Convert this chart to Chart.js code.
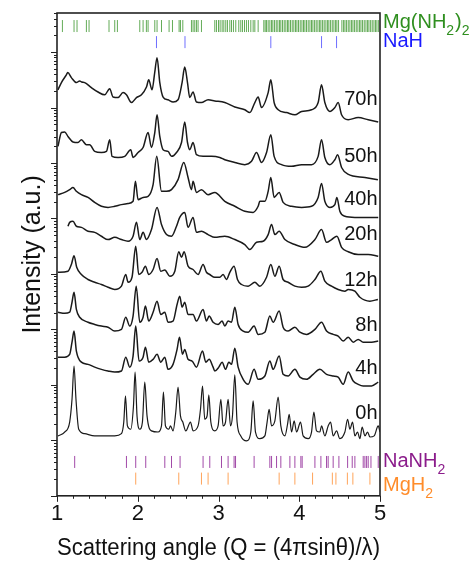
<!DOCTYPE html>
<html>
<head>
<meta charset="utf-8">
<script src="https://cdn.jsdelivr.net/npm/chart.js@4.4.0/dist/chart.umd.min.js"></script>
<style>
  html, body { margin: 0; padding: 0; background: #fff; }
</style>
</head>
<body>
<canvas id="xrd" width="470" height="567"></canvas>
<script>
// Q (1/A) and log10 intensity (a.u.)
var trace70h = [[1.012,7.32],[1.058,7.46],[1.116,7.59],[1.133,7.63],[1.178,7.54],[1.240,7.45],[1.281,7.48],[1.306,7.46],[1.343,7.45],[1.426,7.36],[1.508,7.28],[1.591,7.23],[1.653,7.34],[1.694,7.19],[1.756,7.18],[1.818,7.27],[1.860,7.23],[1.922,7.09],[1.984,7.18],[2.046,7.23],[2.108,7.37],[2.136,7.50],[2.177,7.32],[2.210,7.63],[2.239,7.90],[2.273,7.45],[2.314,7.19],[2.375,7.14],[2.437,7.10],[2.499,7.14],[2.549,7.45],[2.582,7.73],[2.616,7.45],[2.644,7.18],[2.685,7.28],[2.727,7.10],[2.789,7.09],[2.871,7.14],[2.954,7.12],[3.078,7.09],[3.202,7.01],[3.326,6.96],[3.388,6.91],[3.450,7.09],[3.491,7.19],[3.533,7.00],[3.615,7.27],[3.648,7.50],[3.689,7.09],[3.739,6.96],[3.843,6.91],[3.946,6.87],[4.029,6.93],[4.152,6.96],[4.234,7.09],[4.276,7.41],[4.317,7.09],[4.379,6.93],[4.441,7.00],[4.482,7.09],[4.524,6.87],[4.606,6.78],[4.730,6.82],[4.854,6.78],[4.978,6.74]];
var trace50h = [[1.012,6.30],[1.055,6.55],[1.095,6.56],[1.136,6.48],[1.198,6.38],[1.260,6.37],[1.302,6.42],[1.364,6.33],[1.405,6.33],[1.467,6.21],[1.550,6.19],[1.612,6.21],[1.653,6.42],[1.682,6.12],[1.756,6.10],[1.839,6.12],[1.913,6.24],[1.942,6.10],[2.004,6.19],[2.066,6.28],[2.128,6.55],[2.170,6.28],[2.211,6.55],[2.239,6.87],[2.273,6.48],[2.314,6.24],[2.375,6.21],[2.418,6.12],[2.480,6.19],[2.542,6.37],[2.582,6.74],[2.616,6.37],[2.644,6.24],[2.685,6.37],[2.727,6.15],[2.809,6.12],[2.913,6.12],[3.016,6.10],[3.078,6.06],[3.202,6.01],[3.326,5.97],[3.409,6.03],[3.471,6.19],[3.533,6.01],[3.595,6.19],[3.648,6.51],[3.689,6.12],[3.781,5.97],[3.905,5.94],[4.029,5.97],[4.152,5.97],[4.234,6.12],[4.276,6.42],[4.317,6.10],[4.379,5.97],[4.441,6.06],[4.475,6.15],[4.524,5.92],[4.602,5.80],[4.813,5.74],[4.974,5.70]];
var trace40h = [[1.012,5.43],[1.095,5.47],[1.157,5.52],[1.198,5.56],[1.240,5.49],[1.302,5.43],[1.384,5.38],[1.467,5.29],[1.550,5.22],[1.632,5.20],[1.715,5.22],[1.798,5.25],[1.880,5.27],[1.942,5.31],[1.971,5.67],[2.004,5.34],[2.066,5.38],[2.128,5.40],[2.190,5.61],[2.235,6.12],[2.294,5.49],[2.356,5.49],[2.418,5.52],[2.499,5.70],[2.570,6.01],[2.623,5.74],[2.665,5.52],[2.685,5.67],[2.727,5.47],[2.789,5.52],[2.871,5.43],[2.954,5.47],[3.078,5.31],[3.202,5.22],[3.326,5.13],[3.429,5.11],[3.491,5.22],[3.512,5.31],[3.574,5.31],[3.615,5.49],[3.648,5.74],[3.689,5.38],[3.751,5.47],[3.800,5.29],[3.905,5.22],[4.029,5.20],[4.152,5.22],[4.234,5.38],[4.276,5.63],[4.317,5.31],[4.379,5.20],[4.441,5.25],[4.466,5.38],[4.503,5.13],[4.565,5.04],[4.689,5.02],[4.854,5.02],[4.978,5.02]];
var trace20h = [[1.136,4.86],[1.157,4.93],[1.198,4.95],[1.240,4.86],[1.302,4.84],[1.384,4.77],[1.467,4.75],[1.550,4.68],[1.632,4.62],[1.715,4.66],[1.798,4.62],[1.880,4.59],[1.942,4.68],[1.984,4.93],[2.025,4.62],[2.066,4.75],[2.108,4.62],[2.170,4.80],[2.239,5.20],[2.294,4.89],[2.356,4.71],[2.418,4.68],[2.480,4.86],[2.520,5.02],[2.582,5.11],[2.623,4.84],[2.685,5.02],[2.727,4.75],[2.789,4.77],[2.871,4.71],[2.954,4.66],[3.078,4.68],[3.202,4.62],[3.326,4.53],[3.388,4.44],[3.471,4.57],[3.553,4.59],[3.615,4.71],[3.657,4.89],[3.698,4.71],[3.751,4.77],[3.822,4.62],[3.946,4.53],[4.070,4.48],[4.194,4.62],[4.276,4.80],[4.338,4.57],[4.400,4.62],[4.466,4.68],[4.524,4.48],[4.606,4.40],[4.730,4.35],[4.854,4.35],[4.978,4.32]];
var trace12h = [[1.012,4.03],[1.136,4.05],[1.178,4.17],[1.211,4.33],[1.244,4.12],[1.302,3.99],[1.384,3.90],[1.467,3.85],[1.550,3.81],[1.632,3.76],[1.715,3.72],[1.798,3.78],[1.851,3.99],[1.880,3.85],[1.929,3.94],[1.975,4.50],[2.012,3.99],[2.053,4.03],[2.095,4.14],[2.136,3.99],[2.190,4.08],[2.239,4.28],[2.285,4.05],[2.335,4.07],[2.397,3.96],[2.459,4.05],[2.508,4.40],[2.542,4.30],[2.574,4.40],[2.623,4.14],[2.685,4.08],[2.747,3.99],[2.809,4.17],[2.851,4.03],[2.892,3.99],[2.954,3.94],[3.016,3.94],[3.057,3.99],[3.099,3.90],[3.140,4.03],[3.193,4.14],[3.235,3.90],[3.285,3.81],[3.367,3.78],[3.450,3.85],[3.512,3.78],[3.595,3.94],[3.648,4.17],[3.698,3.96],[3.751,4.14],[3.800,3.90],[3.862,3.85],[3.946,3.78],[4.029,3.76],[4.110,3.78],[4.194,3.90],[4.268,4.05],[4.317,3.87],[4.400,3.78],[4.482,3.72],[4.565,3.69],[4.606,3.72],[4.689,3.69],[4.751,3.58],[4.874,3.51],[4.974,3.54]];
var trace8h = [[1.012,3.31],[1.095,3.29],[1.157,3.31],[1.186,3.49],[1.211,3.67],[1.240,3.36],[1.281,3.22],[1.384,3.13],[1.467,3.09],[1.550,3.06],[1.632,3.04],[1.715,2.97],[1.798,3.00],[1.851,3.22],[1.901,3.06],[1.942,3.24],[1.981,3.78],[2.025,3.13],[2.066,3.22],[2.095,3.42],[2.136,3.15],[2.190,3.31],[2.239,3.51],[2.285,3.27],[2.335,3.31],[2.375,3.13],[2.437,3.15],[2.487,3.45],[2.520,3.60],[2.549,3.40],[2.582,3.49],[2.623,3.27],[2.685,3.27],[2.727,3.15],[2.809,3.36],[2.851,3.15],[2.884,3.24],[2.933,3.13],[2.995,3.09],[3.045,3.15],[3.078,3.06],[3.119,3.15],[3.161,3.13],[3.202,3.40],[3.243,3.09],[3.305,2.97],[3.367,2.95],[3.441,3.06],[3.491,2.91],[3.574,2.95],[3.636,3.24],[3.677,3.13],[3.751,3.33],[3.800,3.04],[3.862,2.97],[3.946,3.04],[4.008,2.95],[4.091,2.91],[4.194,3.00],[4.276,3.13],[4.338,2.97],[4.420,2.91],[4.482,2.88],[4.544,2.79],[4.606,2.86],[4.668,2.77],[4.730,2.82],[4.792,2.77],[4.896,2.77],[4.978,2.79]];
var trace4h = [[1.012,2.50],[1.095,2.50],[1.157,2.55],[1.186,2.77],[1.211,2.97],[1.240,2.61],[1.302,2.41],[1.384,2.37],[1.467,2.32],[1.550,2.28],[1.632,2.25],[1.715,2.23],[1.798,2.25],[1.851,2.50],[1.901,2.32],[1.942,2.52],[1.975,3.06],[2.016,2.43],[2.066,2.50],[2.095,2.68],[2.136,2.41],[2.190,2.46],[2.239,2.55],[2.285,2.41],[2.335,2.50],[2.375,2.28],[2.437,2.37],[2.487,2.64],[2.517,2.86],[2.554,2.55],[2.582,2.64],[2.623,2.46],[2.673,2.43],[2.727,2.32],[2.802,2.61],[2.843,2.41],[2.884,2.46],[2.933,2.32],[2.954,2.25],[3.004,2.32],[3.045,2.41],[3.087,2.28],[3.128,2.41],[3.161,2.37],[3.202,2.66],[3.243,2.32],[3.305,2.10],[3.367,2.01],[3.441,2.28],[3.491,2.10],[3.574,2.16],[3.636,2.43],[3.677,2.28],[3.751,2.52],[3.800,2.19],[3.862,2.16],[3.946,2.28],[4.008,2.14],[4.091,2.10],[4.172,2.19],[4.255,2.28],[4.338,2.19],[4.420,2.16],[4.482,2.14],[4.544,2.01],[4.606,2.23],[4.668,2.07],[4.730,2.01],[4.792,1.98],[4.896,1.98],[4.978,2.05]];
var trace0h = [[1.012,1.08],[1.095,1.15],[1.157,1.33],[1.186,1.74],[1.211,2.34],[1.235,1.74],[1.269,1.20],[1.343,1.12],[1.467,1.08],[1.591,1.08],[1.715,1.08],[1.798,1.12],[1.827,1.33],[1.848,1.80],[1.872,1.26],[1.913,1.20],[1.947,1.62],[1.967,2.23],[1.991,1.44],[2.025,1.20],[2.058,1.33],[2.087,2.05],[2.115,1.44],[2.170,1.17],[2.252,1.15],[2.294,1.26],[2.318,1.87],[2.343,1.26],[2.384,1.20],[2.405,1.26],[2.437,1.17],[2.471,1.51],[2.499,1.96],[2.529,1.44],[2.558,1.33],[2.595,1.17],[2.653,1.33],[2.685,1.17],[2.747,1.26],[2.777,1.56],[2.802,1.98],[2.830,1.38],[2.859,1.44],[2.880,1.82],[2.905,1.33],[2.954,1.17],[2.995,1.26],[3.029,1.74],[3.057,1.26],[3.087,1.33],[3.119,1.74],[3.149,1.26],[3.173,1.44],[3.202,2.18],[3.230,1.33],[3.276,1.08],[3.347,0.99],[3.400,1.15],[3.429,1.71],[3.458,1.15],[3.512,1.03],[3.574,1.08],[3.602,1.33],[3.627,1.56],[3.657,1.26],[3.698,1.35],[3.739,1.78],[3.772,1.26],[3.822,1.08],[3.855,1.29],[3.875,1.47],[3.905,1.15],[3.937,1.35],[3.967,1.15],[4.016,1.33],[4.048,1.08],[4.110,1.03],[4.152,1.15],[4.181,1.51],[4.214,1.17],[4.255,1.15],[4.276,1.26],[4.317,1.08],[4.358,1.26],[4.388,1.33],[4.420,1.08],[4.462,1.17],[4.503,1.03],[4.565,1.15],[4.599,1.38],[4.627,1.20],[4.660,1.33],[4.689,1.08],[4.722,1.15],[4.751,1.03],[4.779,1.24],[4.813,1.08],[4.846,1.15],[4.875,1.06],[4.928,1.08],[4.978,1.26],[5.000,1.15]];

// reference reflection positions (Q)
var mgNH22Peaks = [1.067,1.211,1.248,1.364,1.397,1.644,1.715,1.748,2.025,2.066,2.107,2.128,2.211,2.239,2.294,2.388,2.430,2.512,2.529,2.558,2.665,2.685,2.706,2.727,2.747,2.789,
  2.954,2.975,3.000,3.020,3.045,3.066,3.090,3.111,3.140,3.161,3.185,3.214,3.251,3.276,3.297,3.322,3.346,3.371,3.400,3.429,3.450,3.491,
  3.561,3.578,3.595,3.615,3.636,3.657,3.673,3.694,3.715,3.735,3.756,3.772,3.793,3.814,3.834,3.855,3.871,3.892,3.913,3.933,3.954,3.971,3.991,4.012,4.033,4.053,4.070,4.090,4.111,4.132,4.152,4.169,4.190,4.210,4.231,4.252,4.268,4.289,4.309,4.330,4.351,4.367,4.388,4.409,4.429,4.450,4.466,4.487,4.528,4.549,4.566,4.586,4.607,4.627,4.648,4.665,4.685,4.706,4.726,4.747,4.764,4.784,4.805,4.826,4.846,4.863,4.884,4.904,4.925,4.945,4.962,4.983];
var naHPeaks = [2.232,2.585,3.648,4.276,4.462];
var naNH2Peaks = [1.219,1.860,1.975,2.099,2.335,2.418,2.524,2.809,2.892,3.037,3.119,3.193,3.211,3.441,3.636,3.657,3.719,3.772,3.884,3.946,4.020,4.036,4.194,4.268,4.338,4.358,4.420,4.491,4.599,4.656,4.689,4.792,4.813,4.834,4.854,4.888,4.978];
var mgH2Peaks = [1.975,2.508,2.789,2.871,3.119,3.751,3.946,4.165,4.410,4.454,4.596,4.664,4.875];

var sampleNames = ['70h', '50h', '40h', '20h', '12h', '8h', '4h', '0h'];
var sampleTraces = [trace70h, trace50h, trace40h, trace20h, trace12h, trace8h, trace4h, trace0h];
var xTickLabels = ['1', '2', '3', '4', '5'];

var FONT = '"Liberation Sans", Arial, sans-serif';
var TEXT = '#111';

// where the sample names and phase names sit (y in log10 units)
var nameBaselines = [7.05, 6.01, 5.25, 4.62, 3.78, 2.97, 2.19, 1.38];
var phaseRows = [
  { parts: [['Mg(NH', 0], ['2', 1], [')', 0], ['2', 1]], color: '#2f8f1f', level: 8.47, base: 8.44, peaks: mgNH22Peaks, tick: 'rgba(47,143,31,0.75)' },
  { parts: [['NaH', 0]], color: '#1a1aff', level: 8.18, base: 8.09, peaks: naHPeaks, tick: '#6f6fff' },
  { parts: [['NaNH', 0], ['2', 1]], color: '#8b1c8b', level: 0.61, base: 0.52, peaks: naNH2Peaks, tick: '#a24aa8' },
  { parts: [['MgH', 0], ['2', 1]], color: '#ff8c2a', level: 0.31, base: 0.09, peaks: mgH2Peaks, tick: '#ffa45a' }
];

var datasets = sampleTraces.map(function (pts, i) {
  var fresh = sampleNames[i] === '0h';
  return {
    type: 'line',
    label: sampleNames[i],
    data: pts.map(function (p) { return { x: p[0], y: p[1] }; }),
    borderColor: '#1a1a1a',
    borderWidth: fresh ? 1.2 : 1.5,
    borderJoinStyle: 'round',
    cubicInterpolationMode: 'monotone',
    pointRadius: 0,
    fill: false
  };
});
phaseRows.forEach(function (row) {
  datasets.push({
    type: 'scatter',
    label: row.parts.map(function (p) { return p[0]; }).join(''),
    data: row.peaks.map(function (q) { return { x: q, y: row.level }; }),
    pointStyle: 'line',
    rotation: 90,
    pointRadius: 6,
    pointHoverRadius: 6,
    pointBorderColor: row.tick,
    pointBorderWidth: 1
  });
});

function isWhole(v) { return Math.abs(v - Math.round(v)) < 1e-6; }

var tickMarks = {
  id: 'tickMarks',
  afterDatasetsDraw: function (chart) {
    var ctx = chart.ctx, a = chart.chartArea, x = chart.scales.x, y = chart.scales.y;
    ctx.save();
    ctx.strokeStyle = '#222';
    ctx.lineWidth = 1;
    ctx.beginPath();
    x.ticks.forEach(function (t) {
      var px = Math.round(x.getPixelForValue(t.value)) + 0.5;
      ctx.moveTo(px, a.bottom);
      ctx.lineTo(px, a.bottom + (isWhole(t.value) ? 6 : 3));
    });
    y.ticks.forEach(function (t) {
      var py = Math.round(y.getPixelForValue(t.value)) + 0.5;
      ctx.moveTo(a.left, py);
      ctx.lineTo(a.left - (isWhole(t.value) ? 6 : 3), py);
    });
    ctx.stroke();
    ctx.lineWidth = 1.6;
    ctx.strokeRect(a.left, a.top, a.right - a.left, a.bottom - a.top);
    ctx.restore();
  }
};

function drawChem(ctx, parts, x, y, size, color) {
  ctx.fillStyle = color;
  parts.forEach(function (p) {
    var sub = p[1] === 1;
    ctx.font = (sub ? Math.round(size * 0.7) : size) + 'px ' + FONT;
    ctx.fillText(p[0], x, sub ? y + 7 : y);
    x += ctx.measureText(p[0]).width + (sub ? 1 : 0);
  });
}

var annotations = {
  id: 'annotations',
  afterDraw: function (chart) {
    var ctx = chart.ctx, a = chart.chartArea, x = chart.scales.x, y = chart.scales.y;
    ctx.save();
    ctx.textBaseline = 'alphabetic';
    ctx.textAlign = 'right';
    ctx.fillStyle = TEXT;
    ctx.font = '20px ' + FONT;
    sampleNames.forEach(function (n, i) {
      ctx.fillText(n, x.getPixelForValue(4.97), y.getPixelForValue(nameBaselines[i]));
    });
    ctx.textAlign = 'left';
    phaseRows.forEach(function (row) {
      drawChem(ctx, row.parts, a.right + 3, y.getPixelForValue(row.base), 20, row.color);
    });
    ctx.restore();
  }
};

new Chart(document.getElementById('xrd').getContext('2d'), {
  data: { datasets: datasets },
  options: {
    responsive: false,
    animation: false,
    devicePixelRatio: 1,
    layout: { padding: { left: 14, top: 13, right: 90, bottom: 4.8 } },
    plugins: { legend: { display: false }, tooltip: { enabled: false } },
    scales: {
      x: {
        type: 'linear',
        min: 1,
        max: 5,
        afterBuildTicks: function (s) {
          var t = [];
          for (var i = 0; i <= 20; i++) t.push({ value: Math.round((1 + i * 0.2) * 10) / 10 });
          s.ticks = t;
        },
        ticks: {
          autoSkip: false,
          maxRotation: 0,
          padding: 0,
          color: TEXT,
          font: { size: 22, family: FONT },
          callback: function (v) { return isWhole(v) ? xTickLabels[Math.round(v) - 1] : ''; }
        },
        grid: { drawOnChartArea: false, drawTicks: true, tickLength: 5, tickColor: 'rgba(0,0,0,0)' },
        border: { display: false },
        title: {
          display: true,
          text: 'Scattering angle (Q = (4\u03c0sin\u03b8)/\u03bb)',
          color: TEXT,
          font: { size: 23, family: FONT },
          padding: { top: 7.4, bottom: 0 }
        }
      },
      y: {
        type: 'linear',
        min: 0,
        max: 8.705,
        afterBuildTicks: function (s) {
          var t = [];
          for (var n = 0; n <= 8; n++) {
            for (var k = 1; k <= 9; k++) {
              var v = n + Math.log10(k);
              if (v <= 8.705) t.push({ value: v });
            }
          }
          s.ticks = t;
        },
        ticks: { display: false },
        grid: { drawOnChartArea: false, drawTicks: true, tickLength: 6, tickColor: 'rgba(0,0,0,0)' },
        border: { display: false },
        title: {
          display: true,
          text: 'Intensity (a.u.)',
          color: TEXT,
          font: { size: 25, family: FONT },
          padding: { top: 4, bottom: 3 }
        }
      }
    }
  },
  plugins: [tickMarks, annotations]
});
</script>
</body>
</html>
